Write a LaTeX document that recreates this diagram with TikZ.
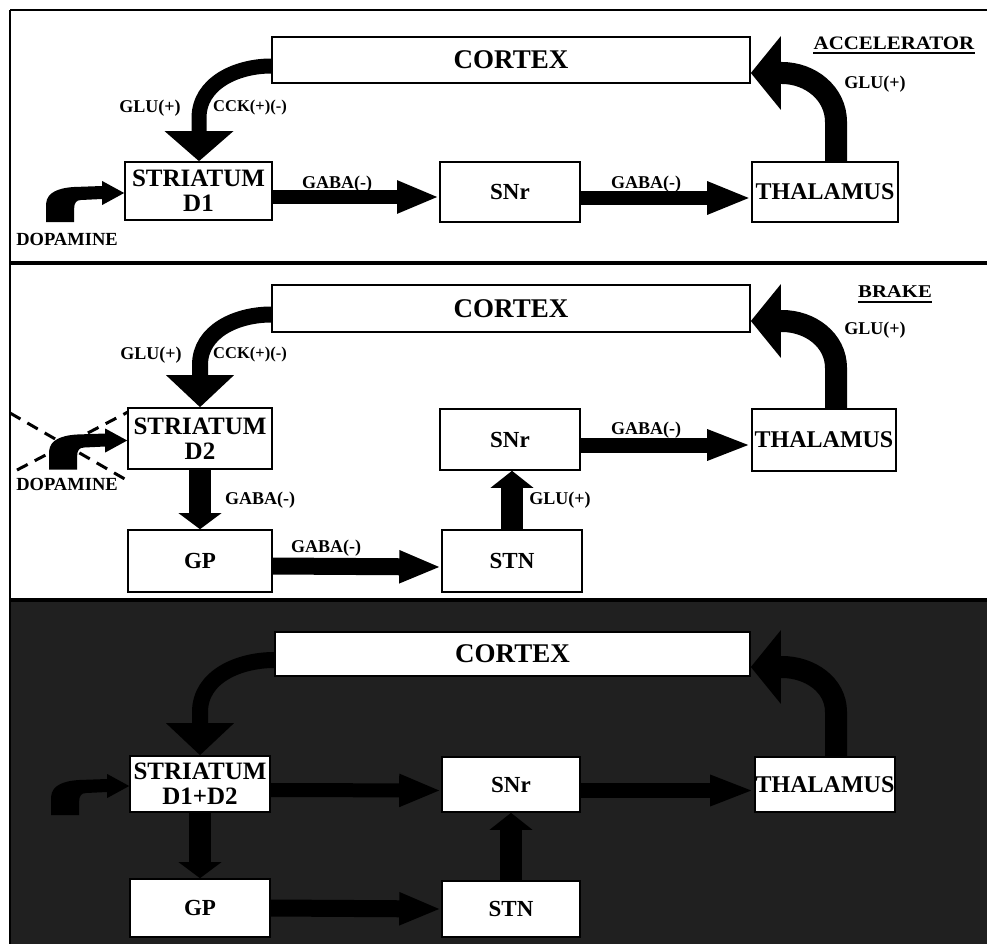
\documentclass[tikz,border=0pt]{standalone}
\usepackage{fontspec}
\setmainfont{Liberation Serif}
\usetikzlibrary{arrows.meta,calc}
\definecolor{panelbg}{RGB}{32,32,32}
\newcommand{\dopaarrow}[2]{%
  \fill[#2, shift={($(#1)+(0,2)$)}] (-78,29) -- (-78,10) .. controls (-77,0) and (-67,-5) .. (-50,-6)
    -- (-22,-7) -- (-22,-12) -- (0,0) -- (-22,12) -- (-22,6) -- (-43,7)
    .. controls (-48,7) and (-50,10) .. (-50,15) -- (-50,29) -- cycle;}
\begin{document}
\begin{tikzpicture}[x=1pt,y=-1pt,
  nbox/.style={draw=black, line width=1.6pt, fill=white, inner sep=0pt, align=center,
    font=\bfseries\fontsize{23}{23}\selectfont},
  strbox/.style={nbox, font=\bfseries\fontsize{25}{25}\selectfont},
  cortbox/.style={nbox, font=\bfseries\fontsize{27}{27}\selectfont},
  thalbox/.style={nbox, font=\bfseries\fontsize{24}{24}\selectfont},
  lab/.style={inner sep=0pt, font=\bfseries\fontsize{18}{18}\selectfont},
  smlab/.style={inner sep=0pt, font=\bfseries\fontsize{16.5}{16.5}\selectfont},
  biglab/.style={inner sep=0pt, font=\bfseries\fontsize{19}{19}\selectfont},
  arr/.style n args={3}{draw=black, line width=#1pt, -{Triangle[width=#2pt,length=#3pt]}},
  xline/.style={draw=black, line width=3pt, dash pattern=on 12pt off 8pt},
]
\useasboundingbox (0,0) rectangle (987,944);
\fill[white] (0,0) rectangle (987,944);
% panel 3 background
\fill[panelbg] (10,601) rectangle (987,944);
% panel borders
\draw[line width=2pt] (10,10) -- (987,10);
\draw[line width=2pt] (10,10) -- (10,944);
\draw[line width=4pt] (10,263) -- (987,263);
\draw[line width=4pt] (10,600) -- (987,600);

% ================= panel 1 =================
\node[cortbox, minimum width=478pt, minimum height=46pt] (cortex1) at (511,60) {CORTEX};
\node[strbox, minimum width=147pt, minimum height=58pt] (str1) at (198.5,191) {STRIATUM\\D1};
\node[nbox, minimum width=140pt, minimum height=60pt] (snr1) at (510,192) {SNr};
\node[thalbox, minimum width=146pt, minimum height=60pt] (thal1) at (825,192) {THALAMUS};

\draw[arr={15}{67}{30}] ($(cortex1.west)+(0,6)$) to[out=180,in=90] (199,118) -- (str1.north -| 199,0);
\draw[arr={14}{30}{42}] ($(str1.east)+(0,6)$) -- ($(snr1.west)+(0,5)$);
\draw[arr={13}{30}{44}] ($(snr1.east)+(0,6)$) -- ($(thal1.west)+(0,6)$);
\draw[arr={22}{72}{30}] ($(thal1.north)+(11,0)$) -- (836,122) to[out=90,in=0] (782,73) -- ($(cortex1.east)+(0,13)$);
\dopaarrow{str1.west}{black}

\node[lab] (glu1a) at (150,108) {GLU(+)};
\node[smlab] (cck1) at (250,108) {CCK(+)(-)};
\node[lab] (gaba1a) at (337,184) {GABA(-)};
\node[lab] (gaba1b) at (646,184) {GABA(-)};
\node[lab] (glu1b) at (875,84) {GLU(+)};
\node[biglab] (acc) at (894,43) {\scalebox{1.1}[1]{ACCELERATOR}};
\draw[line width=2.2pt] ($(acc.south west)+(0,3.5)$) -- ($(acc.south east)+(0,3.5)$);
\node[lab, font=\bfseries\fontsize{18.5}{18.5}\selectfont] (dopa1) at (67,239) {DOPAMINE};

% ================= panel 2 =================
\node[cortbox, minimum width=478pt, minimum height=47pt] (cortex2) at (511,308.5) {CORTEX};
\node[strbox, minimum width=144pt, minimum height=61pt] (str2) at (200,438.5) {STRIATUM\\D2};
\node[nbox, minimum width=144pt, minimum height=62pt] (gp2) at (200,561) {GP};
\node[nbox, minimum width=140pt, minimum height=61pt] (snr2) at (510,439.5) {SNr};
\node[nbox, minimum width=140pt, minimum height=62pt] (stn2) at (512,561) {STN};
\node[thalbox, minimum width=144pt, minimum height=62pt] (thal2) at (824,440) {THALAMUS};

\draw[arr={16}{66}{32}] ($(cortex2.west)+(0,6)$) to[out=180,in=90] (200,365) -- (str2.north);
\draw[arr={22}{42}{16}] (str2.south) -- (gp2.north);
\draw[arr={17}{30}{42}] ($(gp2.east)+(0,5)$) -- ($(stn2.west)+(0,6)$);
\draw[arr={22}{42}{17}] (stn2.north) -- (stn2.north |- snr2.south);
\draw[arr={15}{28}{44}] ($(snr2.east)+(0,5.5)$) -- ($(thal2.west)+(0,5)$);
\draw[arr={22}{72}{30}] ($(thal2.north)+(12,0)$) -- (836,368) to[out=90,in=0] (782,321) -- ($(cortex2.east)+(0,12.5)$);
\dopaarrow{str2.west}{black}
\coordinate (x1a) at (10,413);
\coordinate (x1b) at (130,482);
\coordinate (x2a) at (17,470);
\coordinate (x2b) at (128,412);
\draw[xline] (x1a) -- (x1b);
\draw[xline] (x2a) -- (x2b);

\node[lab] (glu2a) at (151,355) {GLU(+)};
\node[smlab] (cck2) at (250,355) {CCK(+)(-)};
\node[lab, font=\bfseries\fontsize{18.5}{18.5}\selectfont] (dopa2) at (67,484) {DOPAMINE};
\node[lab] (gaba2a) at (260,500) {GABA(-)};
\node[lab] (gaba2b) at (326,548) {GABA(-)};
\node[lab] (glu2b) at (560,500) {GLU(+)};
\node[lab] (gaba2c) at (646,430) {GABA(-)};
\node[lab] (glu2c) at (875,330) {GLU(+)};
\node[biglab, font=\bfseries\fontsize{18}{18}\selectfont] (brake) at (895,292) {\scalebox{1.15}[1]{BRAKE}};
\draw[line width=2.2pt] ($(brake.south west)+(0,3.5)$) -- ($(brake.south east)+(0,3.5)$);

% ================= panel 3 =================
\node[cortbox, minimum width=475pt, minimum height=44pt] (cortex3) at (512.5,654) {CORTEX};
\node[strbox, minimum width=140pt, minimum height=56pt] (str3) at (200,784) {STRIATUM\\D1+D2};
\node[nbox, minimum width=140pt, minimum height=58pt] (gp3) at (200,908) {GP};
\node[nbox, minimum width=138pt, minimum height=55pt] (snr3) at (511,784.5) {SNr};
\node[nbox, minimum width=138pt, minimum height=56pt] (stn3) at (511,909) {STN};
\node[thalbox, minimum width=140pt, minimum height=55pt] (thal3) at (825,784.5) {THALAMUS};

\draw[arr={16}{66}{32}] ($(cortex3.west)+(0,6)$) to[out=180,in=90] (200,712) -- (str3.north);
\draw[arr={14}{30}{42}] ($(str3.east)+(0,6)$) -- ($(snr3.west)+(0,6)$);
\draw[arr={15}{28}{44}] ($(snr3.east)+(0,6)$) -- ($(thal3.west)+(0,6)$);
\draw[arr={22}{42}{16}] (str3.south) -- (gp3.north);
\draw[arr={17}{30}{42}] ($(gp3.east)+(0,0)$) -- ($(stn3.west)+(0,0)$);
\draw[arr={22}{42}{17}] (stn3.north) -- (stn3.north |- snr3.south);
\draw[arr={22}{72}{30}] ($(thal3.north)+(11,0)$) -- (836,712) to[out=90,in=0] (782,667) -- ($(cortex3.east)+(0,13)$);
\dopaarrow{str3.west}{black}
\end{tikzpicture}
\end{document}
